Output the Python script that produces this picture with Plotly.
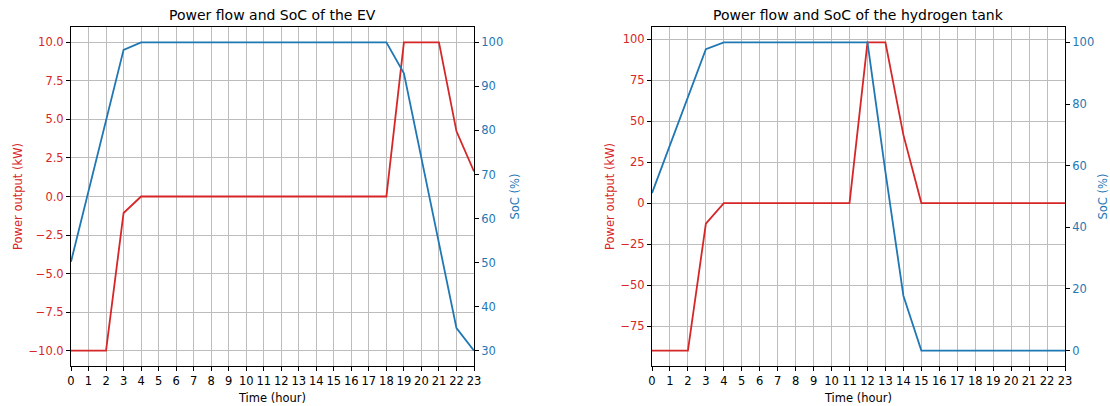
import plotly.graph_objects as go

# ---------------- data ----------------
hours = list(range(24))

ev_power = [-10, -10, -10, -1.07, 0, 0, 0, 0, 0, 0, 0, 0, 0, 0, 0, 0, 0, 0, 0,
            10, 10, 10, 4.23, 1.63]
ev_soc = [50.2, 66.2, 82.2, 98.3, 100, 100, 100, 100, 100, 100, 100, 100, 100,
          100, 100, 100, 100, 100, 100, 93.0, 73.7, 54.4, 35.1, 30.0]

h2_power = [-90, -90, -90, -12.6, 0, 0, 0, 0, 0, 0, 0, 0, 98, 98, 41.6, 0, 0, 0,
            0, 0, 0, 0, 0, 0]
h2_soc = [51.1, 66.7, 82.2, 97.8, 100, 100, 100, 100, 100, 100, 100, 100, 100,
          58.0, 17.8, 0, 0, 0, 0, 0, 0, 0, 0, 0]

ev_power_ticks = [-10.0, -7.5, -5.0, -2.5, 0.0, 2.5, 5.0, 7.5, 10.0]
ev_soc_ticks = [30, 40, 50, 60, 70, 80, 90, 100]
h2_power_ticks = [-75, -50, -25, 0, 25, 50, 75, 100]
h2_soc_ticks = [0, 20, 40, 60, 80, 100]

titles = ["Power flow and SoC of the EV", "Power flow and SoC of the hydrogen tank"]
x_title = "Time (hour)"
y_left_title = "Power output (kW)"
y_right_title = "SoC (%)"

RED = "#d62728"
BLUE = "#1f77b4"
FONT = "DejaVu Sans"
GRID = "#bdbdbd"


def fmt(v, dec):
    s = f"{abs(v):.{dec}f}"
    return ("\u2212" + s) if v < 0 else s


def pad(vals, frac=0.05):
    lo, hi = min(vals), max(vals)
    m = (hi - lo) * frac
    return [lo - m, hi + m]


fig = go.Figure()
fig.add_trace(go.Scatter(x=hours, y=ev_power, mode="lines", line=dict(color=RED, width=1.8),
                         xaxis="x", yaxis="y", showlegend=False))
fig.add_trace(go.Scatter(x=hours, y=ev_soc, mode="lines", line=dict(color=BLUE, width=1.8),
                         xaxis="x", yaxis="y2", showlegend=False))
fig.add_trace(go.Scatter(x=hours, y=h2_power, mode="lines", line=dict(color=RED, width=1.8),
                         xaxis="x2", yaxis="y3", showlegend=False))
fig.add_trace(go.Scatter(x=hours, y=h2_soc, mode="lines", line=dict(color=BLUE, width=1.8),
                         xaxis="x2", yaxis="y4", showlegend=False))

W, H = 1110, 406
ydom = [1 - 366 / H, 1 - 27 / H]
xdom1 = [71 / W, 474 / W]
xdom2 = [652 / W, 1065 / W]

tickfont = dict(family=FONT, size=11.5, color="black")
common_x = dict(range=[0, 23], tickmode="array", tickvals=hours, ticktext=[str(h) for h in hours],
                showgrid=True, gridcolor=GRID, gridwidth=1, showline=True, linecolor="black",
                linewidth=1, mirror=True, ticks="outside", ticklen=4, tickcolor="black",
                tickfont=tickfont, zeroline=False, automargin=False,
                title=dict(text=x_title, font=dict(family=FONT, size=11.5, color="black"), standoff=7))


def yleft(rng, ticks, dec):
    return dict(range=rng, tickmode="array", tickvals=ticks, ticktext=[fmt(t, dec) for t in ticks],
                domain=ydom, showgrid=True, gridcolor=GRID, gridwidth=1, showline=True,
                linecolor="black", linewidth=1, ticks="outside", ticklen=4, tickcolor="black",
                tickfont=dict(family=FONT, size=11.5, color=RED), zeroline=False, automargin=False,
                title=dict(text=y_left_title, font=dict(family=FONT, size=11.5, color=RED), standoff=3))


def yright(rng, ticks, over, anchor):
    return dict(range=rng, tickmode="array", tickvals=ticks, ticktext=[str(t) for t in ticks],
                overlaying=over, anchor=anchor, side="right", showgrid=False, showline=True,
                linecolor="black", linewidth=1, ticks="outside", ticklen=4, tickcolor="black",
                tickfont=dict(family=FONT, size=11.5, color=BLUE), zeroline=False, automargin=False,
                title=dict(text=y_right_title, font=dict(family=FONT, size=11.5, color=BLUE), standoff=8))


fig.update_layout(
    width=W, height=H,
    margin=dict(l=0, r=0, t=0, b=0),
    paper_bgcolor="white", plot_bgcolor="white",
    font=dict(family=FONT, color="black"),
    xaxis=dict(domain=xdom1, anchor="y", **common_x),
    xaxis2=dict(domain=xdom2, anchor="y3", **common_x),
    yaxis=dict(anchor="x", **yleft(pad(ev_power), ev_power_ticks, 1)),
    yaxis2=yright(pad(ev_soc), ev_soc_ticks, "y", "x"),
    yaxis3=dict(anchor="x2", **yleft(pad(h2_power), h2_power_ticks, 0)),
    yaxis4=yright(pad(h2_soc), h2_soc_ticks, "y3", "x2"),
    annotations=[
        dict(text=titles[0], x=(xdom1[0] + xdom1[1]) / 2, y=1 - 15 / H, xref="paper", yref="paper",
             showarrow=False, xanchor="center", yanchor="middle",
             font=dict(family=FONT, size=14, color="black")),
        dict(text=titles[1], x=(xdom2[0] + xdom2[1]) / 2, y=1 - 15 / H, xref="paper", yref="paper",
             showarrow=False, xanchor="center", yanchor="middle",
             font=dict(family=FONT, size=14, color="black")),
    ],
)

fig.write_html("out.html")
